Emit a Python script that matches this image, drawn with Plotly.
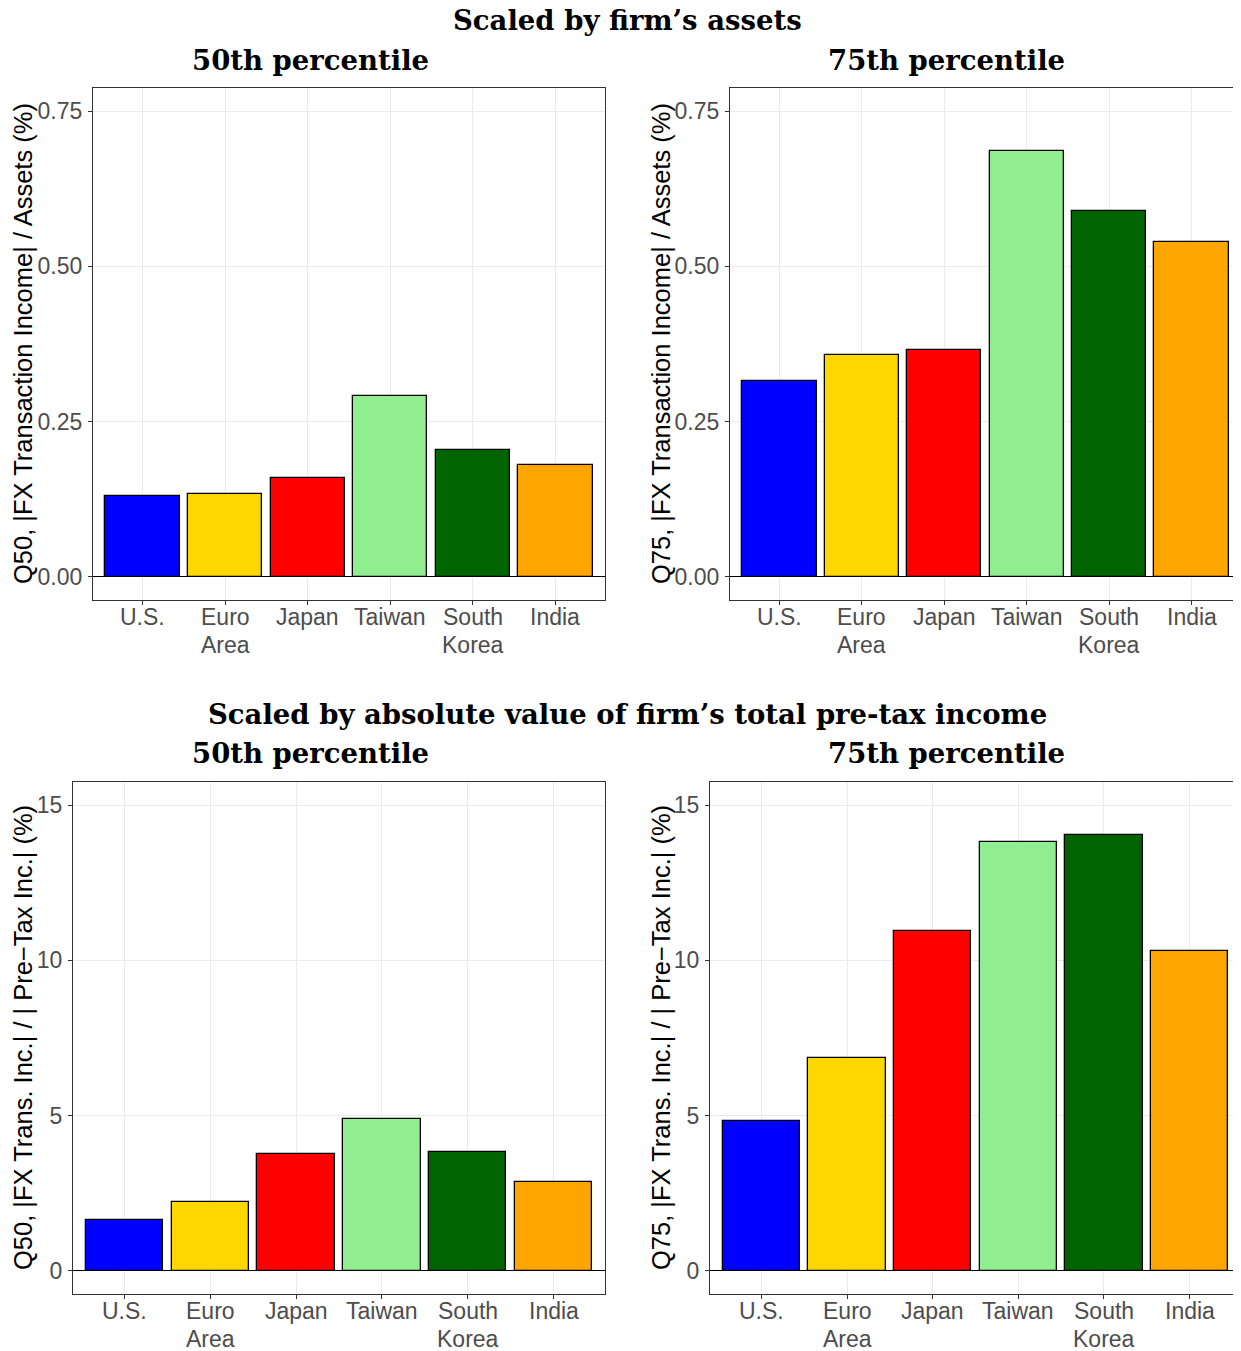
import plotly.graph_objects as go

# ---------------- data ----------------
countries = ["U.S.", "Euro<br>Area", "Japan", "Taiwan", "South<br>Korea", "India"]
bar_colors = ["#0000FF", "#FFD700", "#FF0000", "#90EE90", "#006400", "#FFA500"]

q50_assets = [0.130, 0.133, 0.159, 0.292, 0.204, 0.180]
q75_assets = [0.315, 0.357, 0.366, 0.686, 0.589, 0.540]
q50_pretax = [1.64, 2.22, 3.76, 4.88, 3.82, 2.86]
q75_pretax = [4.82, 6.87, 10.95, 13.81, 14.04, 10.31]

assets_ticks = [0, 0.25, 0.50, 0.75]
assets_ticklabels = ["0.00", "0.25", "0.50", "0.75"]
pretax_ticks = [0, 5, 10, 15]
pretax_ticklabels = ["0", "5", "10", "15"]

title_top = "Scaled by firm’s assets"
title_bottom = "Scaled by absolute value of firm’s total pre-tax income"
sub_left = "50th percentile"
sub_right = "75th percentile"
ytitles = [
    "Q50, |FX Transaction Income| / Assets (%)",
    "Q75, |FX Transaction Income| / Assets (%)",
    "Q50, |FX Trans. Inc.| / | Pre−Tax Inc.| (%)",
    "Q75, |FX Trans. Inc.| / | Pre−Tax Inc.| (%)",
]

# the page body has an 8px margin; the figure starts at page (8, 8) and runs to the window edge
OFF = 8
PAGE_W, PAGE_H = 1241, 1351
W, H = PAGE_W - OFF, PAGE_H - OFF
RIGHT_EDGE = OFF + W

def fx(px):
    return (px - OFF) / W

def fy(py):
    return 1 - (py - OFF) / H

panels = [
    (q50_assets, (93, 605), (88, 600), assets_ticks, assets_ticklabels, [-0.0375, 0.7875]),
    (q75_assets, (730, 1241), (88, 600), assets_ticks, assets_ticklabels, [-0.0375, 0.7875]),
    (q50_pretax, (73, 605), (782, 1294), pretax_ticks, pretax_ticklabels, [-0.75, 15.75]),
    (q75_pretax, (710, 1241), (782, 1294), pretax_ticks, pretax_ticklabels, [-0.75, 15.75]),
]

fig = go.Figure()
tick_font = dict(family="Liberation Sans, Arial, sans-serif", size=23, color="#4D4D4D")
layout_axes = {}
n = len(countries)
for i, (vals, xd, yd, tv, tt, rng) in enumerate(panels, start=1):
    sfx = "" if i == 1 else str(i)
    x0, x1 = xd
    xr0, xr1 = -0.6, n - 0.4
    if x1 > RIGHT_EDGE:
        xr1 = xr0 + (xr1 - xr0) * (RIGHT_EDGE - x0) / (x1 - x0)
        x1 = RIGHT_EDGE
    fig.add_trace(go.Bar(
        x=list(range(n)), y=vals,
        marker=dict(color=bar_colors, line=dict(color="black", width=1.3)),
        width=0.9, showlegend=False,
        xaxis="x" + sfx, yaxis="y" + sfx,
    ))
    layout_axes["xaxis" + sfx] = dict(
        domain=[fx(x0), min(fx(x1), 1.0)], anchor="y" + sfx,
        range=[xr0, xr1], automargin=False,
        tickmode="array", tickvals=list(range(n)), showticklabels=False,
        showgrid=True, gridcolor="#EBEBEB", gridwidth=1.1,
        showline=True, linecolor="#333333", linewidth=1.1, mirror=True,
        ticks="outside", ticklen=4, tickcolor="#333333", tickwidth=1.1,
        zeroline=False, fixedrange=True,
    )
    layout_axes["yaxis" + sfx] = dict(
        domain=[fy(yd[1]), fy(yd[0])], anchor="x" + sfx,
        range=rng, automargin=False,
        tickmode="array", tickvals=tv, ticktext=tt,
        showgrid=True, gridcolor="#EBEBEB", gridwidth=1.1,
        showline=True, linecolor="#333333", linewidth=1.1, mirror=True,
        ticks="outside", ticklen=4, tickcolor="#333333", tickwidth=1.1,
        tickfont=tick_font, ticklabelstandoff=1,
        zeroline=True, zerolinecolor="black", zerolinewidth=1.3,
    )
    # category labels, placed at the category positions of the x axis (tighter line spacing)
    for k, label in enumerate(countries):
        for j, line in enumerate(label.split("<br>")):
            fig.add_annotation(text=line, xref="x" + sfx, yref="paper", x=k,
                               y=fy(yd[1] + 17 + 27.5 * j), showarrow=False,
                               xanchor="center", yanchor="middle", borderpad=0,
                               font=tick_font)

fig.update_layout(**layout_axes)

serif = dict(family="DejaVu Serif, serif", size=27.5, color="black")
annotations = [
    dict(text="<b>" + title_top + "</b>", x=fx(627.5), y=fy(20)),
    dict(text="<b>" + sub_left + "</b>", x=fx(310), y=fy(60)),
    dict(text="<b>" + sub_right + "</b>", x=fx(946), y=fy(60)),
    dict(text="<b>" + title_bottom + "</b>", x=fx(627.5), y=fy(714)),
    dict(text="<b>" + sub_left + "</b>", x=fx(310), y=fy(753)),
    dict(text="<b>" + sub_right + "</b>", x=fx(946), y=fy(753)),
]
for a in annotations:
    fig.add_annotation(xref="paper", yref="paper", showarrow=False, borderpad=0,
                       xanchor="center", yanchor="middle", font=serif, **a)

ytitle_pos = [(23, 344), (661, 344), (23, 1038), (661, 1038)]
for t, (px, py) in zip(ytitles, ytitle_pos):
    fig.add_annotation(text=t, xref="paper", yref="paper", x=fx(px), y=fy(py),
                       showarrow=False, textangle=-90, xanchor="center", yanchor="middle",
                       borderpad=0,
                       font=dict(family="Liberation Sans, Arial, sans-serif", size=25.5, color="black"))

fig.update_layout(
    width=W, height=H, margin=dict(l=0, r=0, t=0, b=0, autoexpand=False),
    paper_bgcolor="white", plot_bgcolor="white",
    bargap=0, showlegend=False,
)

fig.write_html("out.html")
